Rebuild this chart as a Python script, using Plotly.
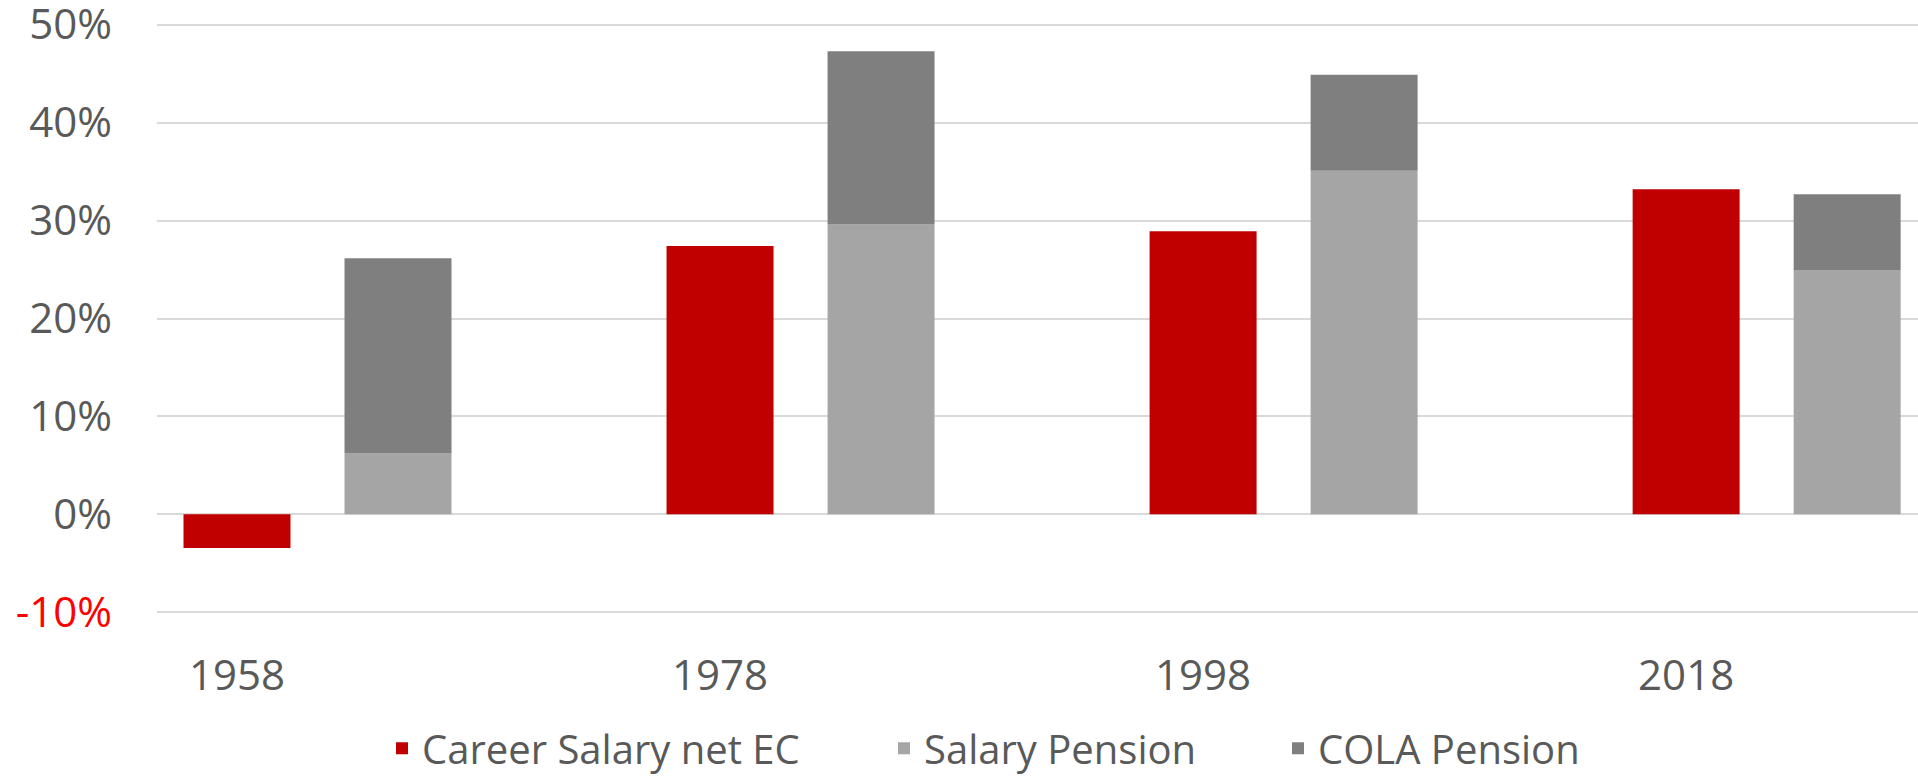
import plotly.graph_objects as go

years = ["1958", "1978", "1998", "2018"]
career_salary = [-3.45, 27.4, 28.9, 33.2]
salary_pension = [6.2, 29.6, 35.1, 24.9]
cola_pension = [19.95, 17.7, 9.8, 7.8]
y_ticks = [-10, 0, 10, 20, 30, 40, 50]
y_tick_labels = ["<span style='color:#FF0000'>-10%</span>", "0%", "10%", "20%", "30%", "40%", "50%"]
series_names = ["Career Salary net EC", "Salary Pension", "COLA Pension"]

pos = list(range(len(years)))
offset = 1 / 3
bar_w = 0.2215
pos_pension = [p + offset for p in pos]

font_family = "Open Sans, Noto Sans, sans-serif"
text_color = "#595959"

# y: 50% at 24.5 px, -10% at 611.9 px ; pad range by 1 unit each side
W, H = 1918, 778
px_per_unit = (611.9 - 24.5) / 60
y_lo, y_hi = -11, 51
T = 24.5 - (y_hi - 50) * px_per_unit
Bpix = 611.9 + (-10 - y_lo) * px_per_unit
L, R = 157, 0
B = H - Bpix
pw = W - L - R
ph = Bpix - T


def px_x(px):
    return (px - L) / pw


def px_y(py):
    return (Bpix - py) / ph


fig = go.Figure()
fig.add_trace(go.Bar(x=pos, y=career_salary, width=bar_w, name=series_names[0],
                     marker=dict(color="#C00000", line=dict(width=0)), legend="legend"))
fig.add_trace(go.Bar(x=pos_pension, y=salary_pension, width=bar_w, name=series_names[1],
                     marker=dict(color="#A5A5A5", line=dict(width=0)), legend="legend2"))
fig.add_trace(go.Bar(x=pos_pension, y=cola_pension, width=bar_w, name=series_names[2],
                     marker=dict(color="#7F7F7F", line=dict(width=0)), legend="legend3"))

leg_common = dict(orientation="h", yanchor="middle", xanchor="left",
                  font=dict(size=40, color=text_color, family=font_family),
                  bgcolor="rgba(0,0,0,0)", borderwidth=0)
text_starts = [424, 926, 1320]
leg_y = 748

fig.update_layout(
    width=W, height=H,
    barmode="relative",
    plot_bgcolor="white", paper_bgcolor="white",
    margin=dict(l=L, r=R, t=T, b=B, autoexpand=False),
    font=dict(family=font_family, color=text_color, size=42),
    showlegend=True,
    legend=dict(x=px_x(text_starts[0] - 42), y=px_y(leg_y), **leg_common),
    legend2=dict(x=px_x(text_starts[1] - 42), y=px_y(leg_y), **leg_common),
    legend3=dict(x=px_x(text_starts[2] - 42), y=px_y(leg_y), **leg_common),
    xaxis=dict(range=[-0.1656, 3.48], tickvals=pos, ticktext=years, showgrid=False,
               zeroline=False, showline=False, ticks="", ticklabelstandoff=25,
               automargin=False, tickfont=dict(size=42, color=text_color)),
    yaxis=dict(range=[y_lo, y_hi], tickvals=y_ticks, ticktext=y_tick_labels, showgrid=True,
               gridcolor="#D9D9D9", gridwidth=1.5, zeroline=True, zerolinecolor="#D9D9D9",
               zerolinewidth=1.5, showline=False, ticks="", ticklabelstandoff=44,
               ticklabeloverflow="allow",
               automargin=False, tickfont=dict(size=42, color=text_color)),
)

fig.write_html("out.html", config={"displayModeBar": False},
               post_script="document.body.style.margin='0';")
